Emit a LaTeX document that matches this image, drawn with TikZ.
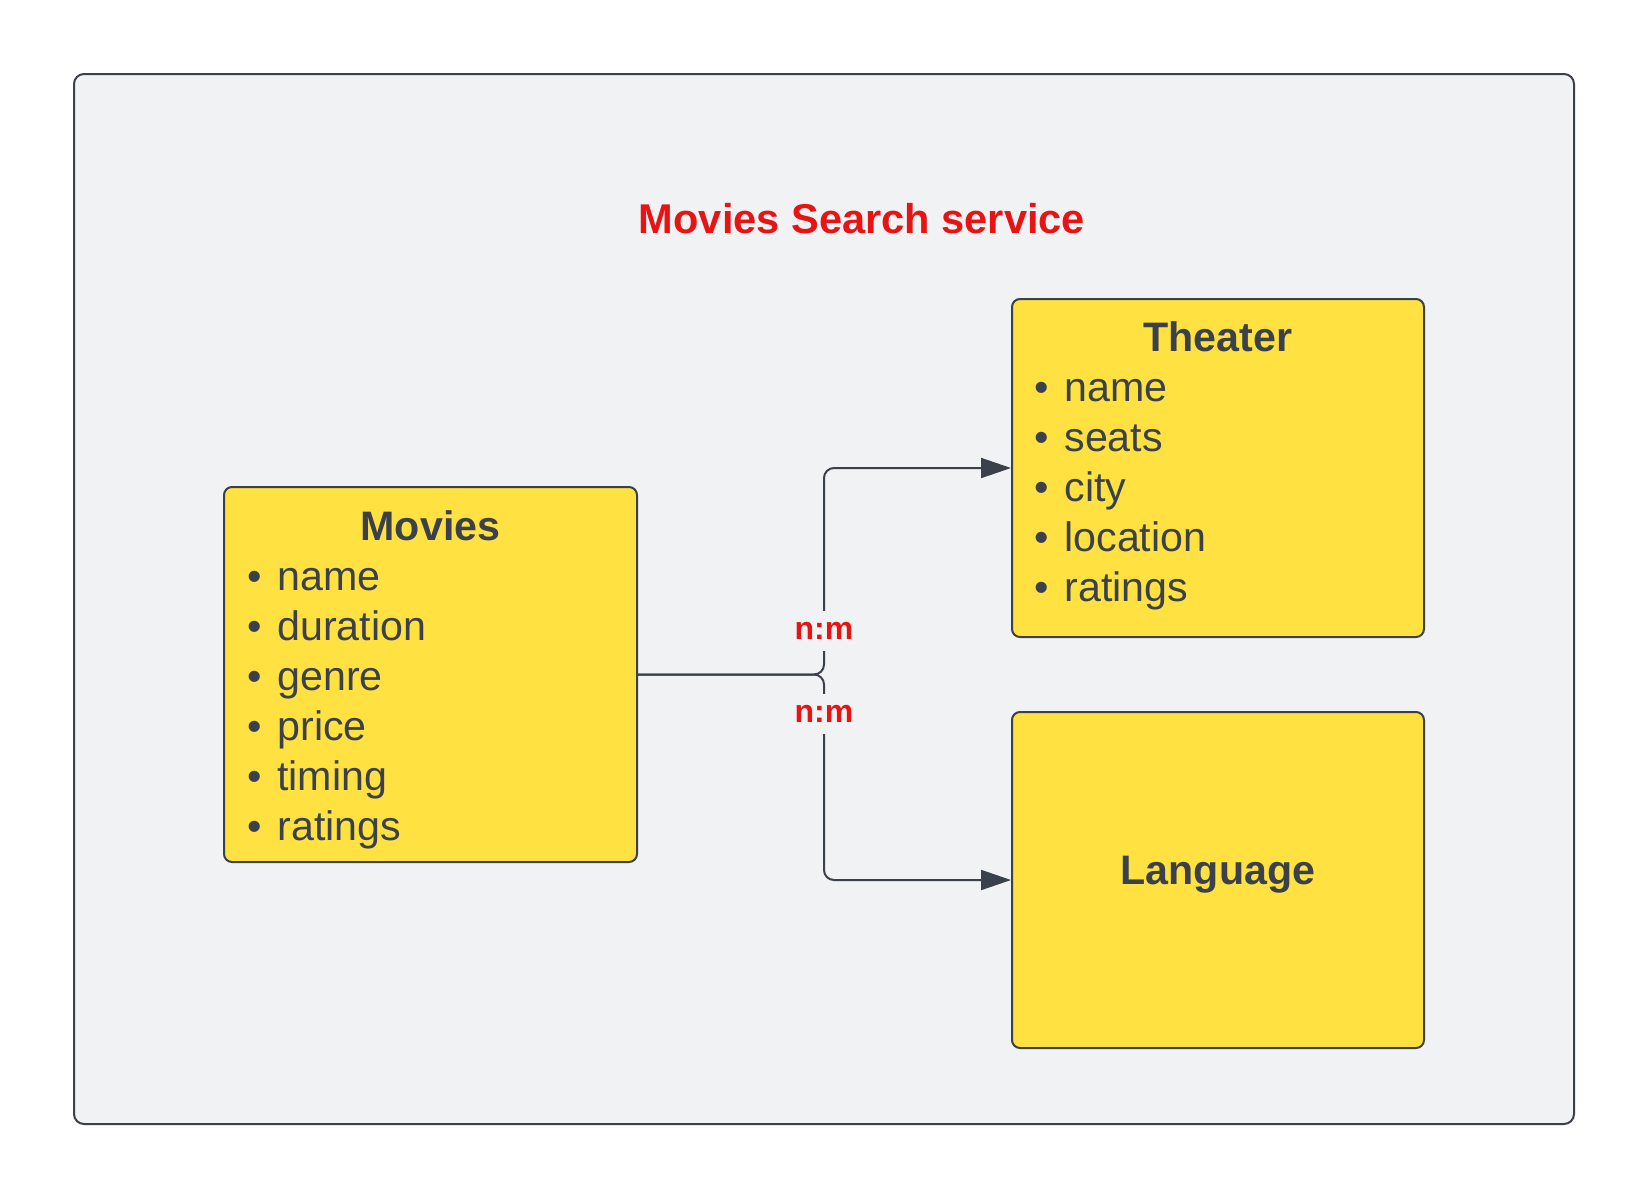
\documentclass[tikz,border=0pt]{standalone}
\usepackage{fontspec}
\setmainfont{Liberation Sans}
\usetikzlibrary{arrows.meta}
\definecolor{bgc}{HTML}{F1F2F4}
\definecolor{ink}{HTML}{3A414A}
\definecolor{ylw}{HTML}{FFE142}
\definecolor{redc}{HTML}{E81313}
\tikzset{
  frame/.style={draw=ink, line width=1pt, fill=bgc, rounded corners=5pt, inner sep=0pt},
  ybox/.style={draw=ink, line width=1pt, fill=ylw, rounded corners=4pt, inner sep=0pt},
  head/.style={anchor=base, text=ink, font=\fontsize{20.6pt}{24pt}\selectfont\bfseries, inner sep=0pt},
  item/.style={anchor=base west, text=ink, font=\fontsize{20.6pt}{24pt}\selectfont, inner sep=0pt},
  title/.style={anchor=base, text=redc, font=\fontsize{20.8pt}{24pt}\selectfont\bfseries, inner sep=0pt},
  card/.style={text=redc, fill=bgc, font=\fontsize{16pt}{18pt}\selectfont\bfseries, inner sep=2pt, minimum height=20pt},
  conn/.style={draw=ink, line width=1pt, rounded corners=5pt, -{Triangle[length=15pt,width=10pt]}}
}
\newcommand{\bul}{\llap{•\hspace{7.5pt}}}
\begin{document}
\begin{tikzpicture}[x=0.5pt,y=-0.5pt]
\useasboundingbox[fill=white] (0,0) rectangle (1650,1200);
\node[frame, minimum width=750pt, minimum height=525pt] (frame) at (824,599) {};
\node[title] (title) at (862,233.5) {Movies Search service};

% Movies
\node[ybox, minimum width=206.5pt, minimum height=187.5pt] (Movies) at (430.5,674.5) {};
\node[head] (mh) at (430.5,540.5) {Movies};
\node[item] (m1) at (277,590) {\bul name};
\node[item] (m2) at (277,640) {\bul duration};
\node[item] (m3) at (277,690) {\bul genre};
\node[item] (m4) at (277,740) {\bul price};
\node[item] (m5) at (277,790) {\bul timing};
\node[item] (m6) at (277,840) {\bul ratings};

% Theater
\node[ybox, minimum width=206pt, minimum height=169pt] (Theater) at (1218,468) {};
\node[head] (th) at (1218,351.5) {Theater};
\node[item] (t1) at (1064,401.5) {\bul name};
\node[item] (t2) at (1064,451.5) {\bul seats};
\node[item] (t3) at (1064,501.5) {\bul city};
\node[item] (t4) at (1064,551.5) {\bul location};
\node[item] (t5) at (1064,601.5) {\bul ratings};

% Language
\node[ybox, minimum width=206pt, minimum height=168pt] (Language) at (1218,880) {};
\node[head] (lh) at (1218,884.5) {Language};

% connectors
\coordinate (j) at (824,674.5);
\draw[conn] (Movies.east) -- (j) |- (Theater.west);
\draw[conn] (Movies.east) -- (j) |- (Language.west);
\node[card] (c1) at (824,631) {n:m};
\node[card] (c2) at (824,714) {n:m};
\end{tikzpicture}
\end{document}
